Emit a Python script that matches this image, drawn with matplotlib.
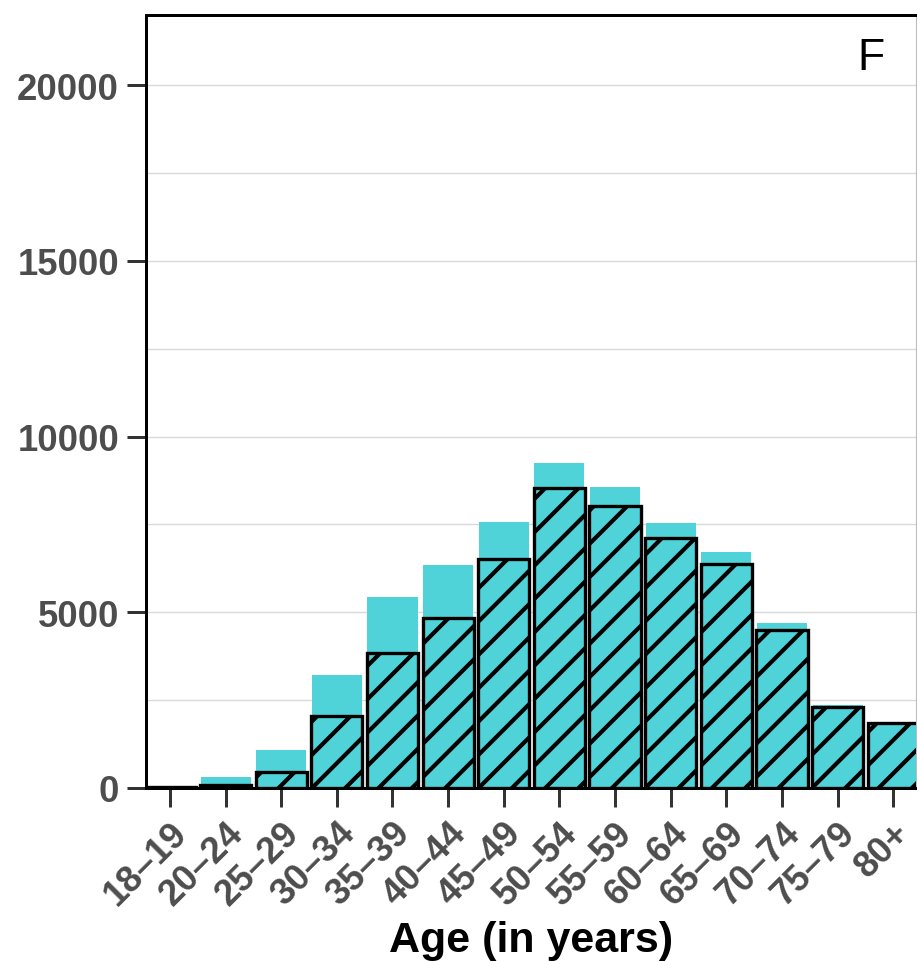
import matplotlib
matplotlib.use("Agg")
import matplotlib.pyplot as plt
import numpy as np

age_groups = ["18–19", "20–24", "25–29", "30–34", "35–39", "40–44", "45–49",
              "50–54", "55–59", "60–64", "65–69", "70–74", "75–79", "80+"]
total_counts = [20, 305, 1080, 3210, 5430, 6350, 7570, 9250, 8560, 7550, 6725, 4705, 2365, 1850]
hatched_counts = [20, 95, 455, 2060, 3835, 4830, 6510, 8530, 8025, 7105, 6365, 4505, 2300, 1840]
y_ticks = [0, 5000, 10000, 15000, 20000]
panel_label = "F"

plt.rcParams['font.family'] = ['Liberation Sans', 'DejaVu Sans']
plt.rcParams['hatch.linewidth'] = 1.5

DPI = 200
fig = plt.figure(figsize=(917 / DPI, 962 / DPI), dpi=DPI)
ax = fig.add_axes([146 / 917, 1 - 789 / 962, (916 - 146) / 917, (789 - 16) / 962])

cyan = "#50d3d8"
x = np.arange(len(age_groups))
ax.bar(x, total_counts, width=0.9, color=cyan, edgecolor="none", zorder=2)
ax.bar(x, hatched_counts, width=0.92, color=cyan, edgecolor="black",
       linewidth=1.2, hatch="//", zorder=3)

ax.set_xlim(-0.43, 13.41)
ax.set_ylim(0, 22000)

ax.set_yticks(y_ticks)
ax.set_yticks(np.arange(2500, 22000, 5000), minor=True)
ax.yaxis.grid(True, which="both", color="#d9d9d9", linewidth=0.5, zorder=0)
ax.set_axisbelow(True)
ax.tick_params(axis="y", which="minor", length=0)

ax.set_xticks(x)
ax.set_xticklabels(age_groups, rotation=45, ha="right", va="top",
                   rotation_mode="anchor")

for lab in ax.get_xticklabels() + ax.get_yticklabels():
    lab.set_fontsize(13.2)
    lab.set_fontweight("bold")
    lab.set_color("#4d4d4d")

ax.tick_params(axis="both", which="major", length=6.8, width=1.08,
               color="#333333", pad=2.9)

for side in ["left", "top", "bottom"]:
    ax.spines[side].set_linewidth(1.08)
    ax.spines[side].set_color("black")
ax.spines["right"].set_color("#bbbbbb")
ax.spines["right"].set_linewidth(0.4)

ax.set_xlabel("Age (in years)", fontsize=15.5, fontweight="bold", color="black",
              va="baseline")
ax.xaxis.set_label_coords(0.5, -0.2109)

ax.text(0.9585, 0.972, panel_label, transform=ax.transAxes, ha="right", va="top",
        fontsize=16, color="black")

fig.savefig("out.png", dpi=DPI)
